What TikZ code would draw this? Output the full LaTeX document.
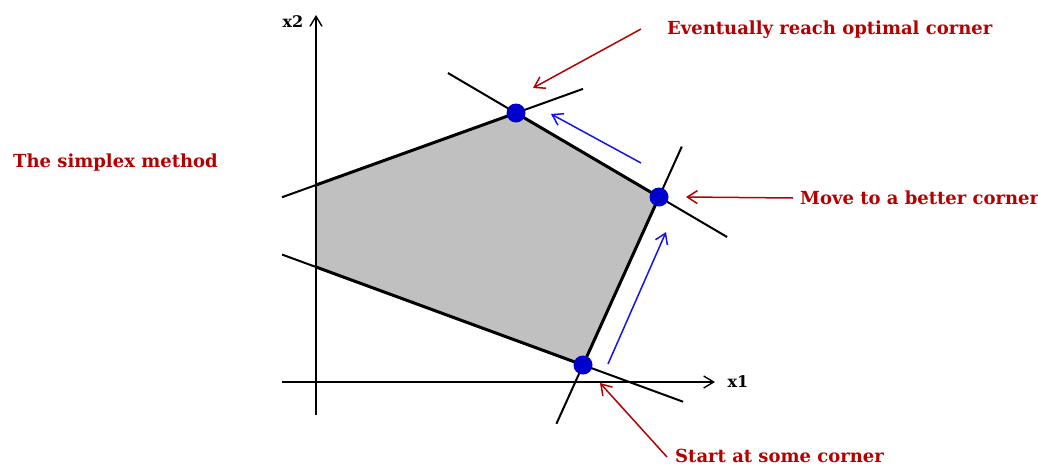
\documentclass[tikz,border=0pt]{standalone}
\usepackage{fontspec}
\setmainfont{DejaVu Serif}
\usetikzlibrary{arrows.meta,calc}
\definecolor{notered}{RGB}{180,0,0}
\definecolor{dotblue}{RGB}{0,0,205}
\definecolor{regiongray}{RGB}{192,192,192}
\definecolor{moveblue}{RGB}{20,20,230}
\begin{document}
\begin{tikzpicture}[x=1pt,y=-1pt,
  axisarrow/.style={line width=1.4pt,-{Straight Barb[length=10pt,width=12pt]}},
  extline/.style={line width=2pt},
  edgeline/.style={line width=3pt,line join=round},
  corner/.style={circle,fill=dotblue,inner sep=0pt,minimum size=19pt},
  notetext/.style={text=notered,font=\bfseries\fontsize{18}{21}\selectfont,inner sep=0pt,anchor=west},
  axistext/.style={font=\bfseries\fontsize{16}{18}\selectfont,inner sep=0pt},
  redarrow/.style={draw=notered,line width=1.5pt,-{Straight Barb[length=10pt,width=13pt]}},
  bluearrow/.style={draw=moveblue,line width=1.5pt,-{Straight Barb[length=10pt,width=13pt]}}]
\useasboundingbox (0,0) rectangle (1038,466);
% polygon vertices
\coordinate (A) at (316,185);
\coordinate (B) at (516,113);
\coordinate (C) at (659,197);
\coordinate (D) at (583,365);
\coordinate (E) at (316,267);
\fill[regiongray] (A) -- (B) -- (C) -- (D) -- (E) -- cycle;
% axes
\coordinate (x2bot) at (316,415);
\coordinate (x2top) at (316,15);
\coordinate (x1left) at (282,382);
\coordinate (x1right) at (715,382);
\draw[axisarrow] (x2bot) -- (x2top);
\draw[axisarrow] (x1left) -- (x1right);
\node[axistext] (x2lab) at (293,22) {x2};
\node[axistext] (x1lab) at (738,382) {x1};
% constraint lines
\draw[extline] ($(A)!-0.17!(B)$) -- ($(A)!1.335!(B)$);
\draw[extline] ($(B)!-0.476!(C)$) -- ($(B)!1.476!(C)$);
\draw[extline] ($(C)!-0.3!(D)$) -- ($(C)!1.35!(D)$);
\draw[extline] ($(E)!-0.127!(D)$) -- ($(E)!1.375!(D)$);
% feasible region edges
\draw[edgeline] (A) -- (B) -- (C) -- (D) -- (E);
% corners
\node[corner] (top) at (B) {};
\node[corner] (right) at (C) {};
\node[corner] (bottom) at (D) {};
% blue moves
\coordinate (m1s) at (608,364);
\coordinate (m1e) at (666,232);
\coordinate (m2s) at (641,163);
\coordinate (m2e) at (551,114);
\draw[bluearrow] (m1s) -- (m1e);
\draw[bluearrow] (m2s) -- (m2e);
% labels
\node[notetext] (title) at (13,163) {The simplex method};
\node[notetext] (t1) at (667,30) {Eventually reach optimal corner};
\node[notetext] (t2) at (800,198) {Move to a better corner};
\node[notetext] (t3) at (675,456) {Start at some corner};
% red pointers
\coordinate (p1) at (533,88);
\coordinate (p2) at (686,197);
\coordinate (p3) at (600,383);
\draw[redarrow] ([shift={(-26,-1)}]t1.west) -- (p1);
\draw[redarrow] ([xshift=-7]t2.west) -- (p2);
\draw[redarrow] ([shift={(-8,1)}]t3.west) -- (p3);
\end{tikzpicture}
\end{document}
